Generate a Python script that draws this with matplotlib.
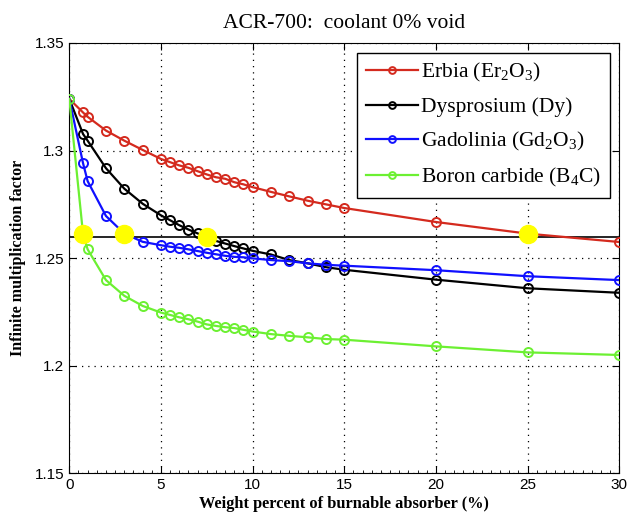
import matplotlib
matplotlib.use("Agg")
import matplotlib.pyplot as plt
from matplotlib.ticker import MultipleLocator

plt.rcParams["mathtext.fontset"] = "custom"
plt.rcParams["mathtext.rm"] = "Liberation Serif"
plt.rcParams["mathtext.it"] = "Liberation Serif:italic"

wt = [0, 0.75, 1, 2, 3, 4, 5, 5.5, 6, 6.5, 7, 7.5, 8, 8.5, 9, 9.5, 10,
      11, 12, 13, 14, 15, 20, 25, 30]

erbia = [1.324, 1.3177, 1.3157, 1.3093, 1.3046, 1.3003, 1.2961, 1.2946, 1.2931,
         1.2920, 1.2904, 1.2889, 1.2876, 1.2869, 1.2853, 1.2843, 1.2830,
         1.2808, 1.2787, 1.2767, 1.2750, 1.2733, 1.2668, 1.2614, 1.2575]
dysprosium = [1.324, 1.3077, 1.3046, 1.2918, 1.2823, 1.2753, 1.2699, 1.2676, 1.2653,
              1.2633, 1.2615, 1.2596, 1.2580, 1.2568, 1.2556, 1.2545, 1.2534,
              1.2517, 1.2491, 1.2476, 1.2458, 1.2446, 1.2400, 1.2360, 1.2339]
gadolinia = [1.324, 1.2941, 1.2858, 1.2696, 1.2614, 1.2576, 1.2560, 1.2553, 1.2548,
             1.2541, 1.2533, 1.2525, 1.2518, 1.2511, 1.2506, 1.2504, 1.2499,
             1.2491, 1.2486, 1.2476, 1.2469, 1.2465, 1.2444, 1.2416, 1.2398]
boron = [1.324, 1.2612, 1.2541, 1.2398, 1.2325, 1.2278, 1.2247, 1.2236, 1.2225,
         1.2216, 1.2205, 1.2192, 1.2185, 1.2179, 1.2175, 1.2167, 1.2159,
         1.2147, 1.2139, 1.2132, 1.2124, 1.2121, 1.2090, 1.2062, 1.2050]

k_target = 1.26
hit_x = [0.75, 3, 7.5, 25]
hit_y = [1.2612, 1.2614, 1.2596, 1.2614]

fig = plt.figure(figsize=(6.27, 5.25), dpi=100)
ax = fig.add_axes([69.3 / 627, 51.7 / 525, 550 / 627, 430.3 / 525])

ax.axhline(k_target, color="black", linewidth=1.2, zorder=1)

series = [
    (erbia, "#d42a1e", "Erbia (Er$_2$O$_3$)"),
    (dysprosium, "black", "Dysprosium (Dy)"),
    (gadolinia, "#1010ff", "Gadolinia (Gd$_2$O$_3$)"),
    (boron, "#6cf032", "Boron carbide (B$_4$C)"),
]
for y, c, lab in series:
    ax.plot(wt, y, color=c, linewidth=1.6, marker="o", markersize=6.5,
            markerfacecolor="none", markeredgewidth=1.4,
            label=lab, zorder=3)

ax.plot(hit_x, hit_y, linestyle="none", marker="o", markersize=13,
        color="#ffff00", markeredgecolor="#ffff00", zorder=4)

ax.set_xlim(0, 30)
ax.set_ylim(1.15, 1.35)
ax.set_xticks([0, 5, 10, 15, 20, 25, 30])
ax.xaxis.set_minor_locator(MultipleLocator(0.5))
ax.set_yticks([1.15, 1.2, 1.25, 1.3, 1.35])
ax.set_yticklabels(["1.15", "1.2", "1.25", "1.3", "1.35"])
ax.grid(True, which="major", linestyle=(0, (1, 4)), color="black", linewidth=0.9)
ax.tick_params(direction="in", top=True, right=True, labelsize=11, length=5)
ax.tick_params(which="minor", direction="in", top=False, bottom=True, length=2)
for lbl in ax.get_xticklabels() + ax.get_yticklabels():
    lbl.set_family("Liberation Sans")

ax.set_title("ACR-700:  coolant 0% void", family="Liberation Serif",
             fontsize=15.5, pad=11)
ax.set_xlabel("Weight percent of burnable absorber (%)", family="Liberation Serif",
              fontsize=11.8, fontweight="bold", labelpad=3)
ax.set_ylabel("Infinite multiplication factor", family="Liberation Serif",
              fontsize=11.5, fontweight="bold", labelpad=6)

leg = ax.legend(loc="upper right", prop={"family": "Liberation Serif", "size": 15.5},
                markerscale=0.75, handlelength=2.4, handletextpad=0.15,
                fancybox=False, framealpha=1, edgecolor="black",
                borderaxespad=0.45, borderpad=0.4, labelspacing=0.6)
leg.get_frame().set_linewidth(1.0)

fig.savefig("out.png", dpi=100)
